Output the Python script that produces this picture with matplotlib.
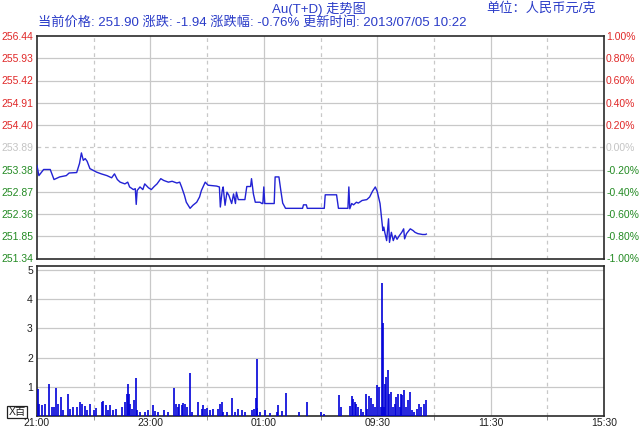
import matplotlib
matplotlib.use("Agg")
import matplotlib.pyplot as plt

plt.rcParams['font.family'] = ['Liberation Sans', 'Noto Sans CJK SC']

# ---------------- data ----------------
prev_close = 253.89
price_ticks = [251.34, 251.85, 252.36, 252.87, 253.38, 253.89, 254.40, 254.91, 255.42, 255.93, 256.44]
pct_ticks = [-1.0, -0.8, -0.6, -0.4, -0.2, 0.0, 0.2, 0.4, 0.6, 0.8, 1.0]
time_pos = [0, 120, 240, 360, 480, 600]
time_labels = ["21:00", "23:00", "01:00", "09:30", "11:30", "15:30"]
half_pos = [60, 180, 300, 420, 540]
vol_ticks = [1, 2, 3, 4, 5]

price_min = [0, 2, 7, 14, 18, 24, 31, 34, 42, 45, 47, 49, 51, 53, 56, 63, 68, 74, 79, 82,
             85, 88, 93, 96, 98, 102, 104, 105, 106, 109, 112, 114, 118, 121, 124, 127, 131, 134, 139, 143,
             148, 151, 153, 156, 158, 162, 165, 169, 172, 174, 178, 181, 190, 193, 194, 196, 197, 199, 201, 203,
             206, 208, 210, 211, 213, 220, 222, 226, 227, 229, 231, 236, 238, 239, 240, 241, 251, 252, 256, 258,
             260, 263, 281, 282, 285, 286, 304, 305, 317, 319, 329, 330, 331, 333, 335, 338, 340, 344, 349, 352,
             355, 358, 360, 363, 366, 367, 368, 370, 372, 373, 375, 377, 379, 381, 383, 386, 388, 389, 391, 395,
             398, 400, 403, 408, 411, 412]
price_val = [253.47, 253.24, 253.38, 253.38, 253.15, 253.21, 253.24, 253.30, 253.31, 253.52, 253.76, 253.59, 253.63, 253.57, 253.40, 253.32, 253.28, 253.24, 253.19, 253.28,
             253.15, 253.09, 253.05, 253.09, 252.98, 252.92, 252.94, 252.58, 252.90, 252.98, 252.92, 253.05, 252.96, 252.92, 252.99, 253.05, 253.17, 253.13, 253.09, 253.11,
             253.07, 253.09, 252.98, 252.79, 252.63, 252.49, 252.56, 252.63, 252.75, 252.90, 253.09, 253.02, 253.00, 252.98, 252.52, 252.90, 252.98, 252.56, 252.86, 252.79,
             252.60, 252.82, 252.60, 252.86, 252.69, 252.69, 252.99, 252.99, 253.17, 252.82, 252.63, 252.63, 252.60, 252.60, 252.98, 252.60, 252.60, 253.21, 253.21, 252.90,
             252.61, 252.49, 252.49, 252.57, 252.57, 252.49, 252.49, 252.80, 252.80, 252.49, 252.49, 252.98, 252.48, 252.60, 252.57, 252.63, 252.61, 252.67, 252.69, 252.75,
             252.88, 252.98, 252.88, 252.60, 251.98, 252.06, 251.94, 251.75, 252.25, 251.71, 251.94, 251.75, 251.87, 251.78, 251.85, 251.94, 252.02, 251.79, 251.91, 252.02,
             251.98, 251.94, 251.91, 251.89, 251.89, 251.90]

vol_min = [1.4, 2.4, 5, 8.5, 12.7, 15.5, 18, 20.1, 22.6, 25, 27.9, 32.5, 35, 37.7, 42, 45.5, 47.3, 50.8, 53.3, 56,
           60.3, 62.4, 68.4, 70.2, 73, 75.5, 77.2, 80.7, 83.6, 89.6, 93.1, 94.9, 96, 97, 98.4, 100.2, 102.6, 104.4, 105.5, 109,
           114.3, 117.8, 122.4, 124.9, 128.4, 134.4, 139, 145, 147.1, 148.9, 150.6, 153.1, 154.8, 156.6, 158.4, 161.9, 163.7, 170.7, 174.3, 176,
           177.8, 179.5, 183.1, 186.6, 191.9, 193.7, 195.4, 197.2, 200.7, 206, 209.5, 213, 216.6, 220.1, 227.2, 229.6, 231.4, 232.5, 233.2, 236,
           241.3, 246.6, 253.7, 255.3, 259, 263, 277.4, 286, 301, 303.5, 320, 322, 331.6, 333, 334.7, 336, 338, 340, 342.5, 344.7,
           347.7, 349, 351.2, 353.3, 355.5, 357.7, 359.8, 362, 364.2, 365.5, 366.3, 367.2, 368.5, 369.8, 371.5, 372.8, 374.2, 376.3, 378.5, 379.8,
           381.5, 383.7, 385, 386.7, 388.5, 390.2, 392.4, 395, 396.7, 398.8, 402.4, 404.5, 406.2, 409.7, 411.8]
vol_val = [0.94, 0.42, 0.37, 0.42, 1.11, 0.31, 0.31, 0.97, 0.42, 0.65, 0.20, 0.77, 0.25, 0.31, 0.31, 0.48, 0.42, 0.34, 0.20, 0.42,
           0.20, 0.29, 0.48, 0.51, 0.37, 0.20, 0.37, 0.22, 0.25, 0.31, 0.48, 0.77, 1.11, 0.77, 0.42, 0.25, 0.54, 1.29, 0.20, 0.14,
           0.14, 0.20, 0.37, 0.17, 0.14, 0.20, 0.14, 0.96, 0.42, 0.31, 0.42, 0.39, 0.45, 0.42, 0.31, 1.48, 0.14, 0.48, 0.25, 0.37,
           0.25, 0.29, 0.20, 0.25, 0.25, 0.42, 0.48, 0.14, 0.14, 0.60, 0.14, 0.25, 0.20, 0.14, 0.20, 0.25, 0.60, 1.95, 0.29, 0.14,
           0.20, 0.10, 0.14, 0.37, 0.17, 0.80, 0.14, 0.48, 0.14, 0.08, 0.71, 0.31, 0.33, 0.67, 0.59, 0.48, 0.42, 0.31, 0.25, 0.14,
           0.77, 0.25, 0.67, 0.63, 0.40, 0.31, 1.05, 1.00, 0.31, 4.56, 3.17, 0.31, 1.11, 1.34, 1.57, 0.77, 0.83, 0.31, 0.42, 0.65,
           0.77, 0.31, 0.77, 0.71, 0.88, 0.31, 0.54, 0.82, 0.19, 0.14, 0.25, 0.40, 0.31, 0.42, 0.54]

title_text = "Au(T+D) 走势图"
unit_text = "单位：人民币元/克"
info_text = "当前价格: 251.90 涨跌: -1.94 涨跌幅: -0.76% 更新时间: 2013/07/05 10:22"
vol_unit = "X百"

# ---------------- styling ----------------
W, H = 643, 433
BLUE_TXT = '#2b3cc8'
RED = '#e02828'
GREEN = '#238a23'
GREY = '#c4c4c4'
GRID = '#c8c8c8'
FRAME = '#2a2a2a'


def fx(px):
    return px / W


def fy(py):
    return 1 - py / H


fig = plt.figure(figsize=(W / 100, H / 100), dpi=100)
fig.patch.set_facecolor('white')

left_px, right_px = 37, 604
ax = fig.add_axes([fx(left_px), fy(258.5), fx(right_px - left_px), (258.5 - 36) / H])
axv = fig.add_axes([fx(left_px), fy(416), fx(right_px - left_px), (416 - 266) / H])

for a in (ax, axv):
    a.set_xlim(0, 600)
    for s in a.spines.values():
        s.set_color(FRAME)
        s.set_linewidth(1.2)
    for p in time_pos[1:-1]:
        a.axvline(p, color=GRID, lw=0.9, zorder=0)
    for p in half_pos:
        a.axvline(p, color=GRID, lw=0.9, ls=(0, (3, 3)), zorder=0)

# price panel
ax.set_ylim(price_ticks[0], price_ticks[-1])
for t in price_ticks[1:-1]:
    if abs(t - prev_close) < 1e-6:
        ax.axhline(t, color=GRID, lw=0.9, ls=(0, (3, 3)), zorder=0)
    else:
        ax.axhline(t, color=GRID, lw=0.9, zorder=0)
ax.plot(price_min, price_val, color='#2222d4', lw=1.0, zorder=3)
ax.set_xticks([])
ax.set_yticks(price_ticks)
ax.set_yticklabels([f"{t:.2f}" for t in price_ticks])
ax.tick_params(axis='y', length=0, pad=2.5, labelsize=7.5)
for lab, t in zip(ax.get_yticklabels(), price_ticks):
    lab.set_color(RED if t > prev_close + 1e-6 else (GREY if abs(t - prev_close) < 1e-6 else GREEN))

ax2 = ax.twinx()
ax2.set_ylim(-1.0, 1.0)
ax2.set_yticks(pct_ticks)
ax2.set_yticklabels([f"{t:.2f}%" for t in pct_ticks])
ax2.tick_params(axis='y', length=0, pad=1.5, labelsize=7.5)
for s in ax2.spines.values():
    s.set_visible(False)
for lab, t in zip(ax2.get_yticklabels(), pct_ticks):
    lab.set_color(RED if t > 1e-6 else (GREY if abs(t) < 1e-6 else GREEN))

# volume panel
axv.set_ylim(0, 5.14)
for t in vol_ticks:
    axv.axhline(t, color=GRID, lw=0.9, zorder=0)
axv.vlines(vol_min, 0, vol_val, color='#0000d8', lw=1.2, zorder=3)
axv.set_yticks(vol_ticks)
axv.set_yticklabels([str(t) for t in vol_ticks])
axv.tick_params(axis='y', length=0, pad=3, labelsize=7.5, labelcolor='#202020')
axv.set_xticks(time_pos)
axv.set_xticklabels(time_labels)
axv.set_xticks(half_pos, minor=True)
axv.tick_params(axis='x', which='major', length=0, pad=1.5, labelsize=7.5, labelcolor='#202020')
axv.tick_params(axis='x', which='minor', length=3, color='#808080')

# vol unit box
fig.text(fx(17), fy(412), vol_unit, ha='center', va='center', fontsize=7.5, color='#202020',
         bbox=dict(boxstyle='square,pad=0.12', fc='white', ec='#202020', lw=0.9))

# header texts
fig.text(fx(319), fy(8.5), title_text, ha='center', va='center', fontsize=9.5, color=BLUE_TXT)
fig.text(fx(541), fy(8.5), unit_text, ha='center', va='center', fontsize=9.5, color=BLUE_TXT)
fig.text(fx(38), fy(22.5), info_text, ha='left', va='center', fontsize=9.5, color=BLUE_TXT)

fig.savefig('out.png', dpi=100, facecolor='white')
